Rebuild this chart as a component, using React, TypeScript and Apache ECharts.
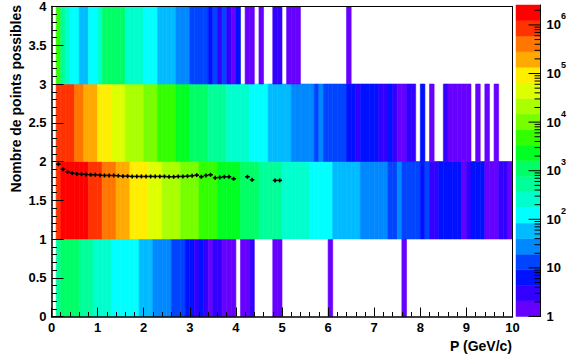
import React, { useEffect, useRef } from "react";
import * as echarts from "echarts";

// ---- data (counts per 0.1 GeV/c bin, one array per row of "Nombre de points possibles") ----
const BIN = 0.1;
const X_MIN = 0;
const X_MAX = 10;
const Y_MIN = 0;
const Y_MAX = 4;

// row y = 0..1
const row0 = [
  0, 530, 1100, 1100, 1100, 1100, 530, 530, 530, 250,
  250, 250, 250, 120, 120, 120, 120, 120, 120, 58,
  58, 58, 28, 28, 28, 28, 13, 13, 13, 6,
  6, 3, 6, 3, 1, 3, 3, 1, 1, 1,
  0, 1, 1, 3, 0, 0, 0, 0, 1, 1,
  0, 0, 0, 0, 0, 0, 0, 0, 0, 0,
  1, 0, 0, 0, 0, 0, 0, 0, 0, 0,
  0, 0, 0, 0, 0, 0, 1, 0, 0, 0,
  0, 0, 0, 0, 0, 0, 0, 0, 0, 0,
  0, 0, 0, 0, 0, 0, 0, 0, 0, 0,
];
// row y = 1..2
const row1 = [
  0, 860000, 1800000, 1800000, 1800000, 1800000, 1800000, 1800000, 860000, 860000,
  860000, 410000, 410000, 410000, 190000, 190000, 190000, 93000, 93000, 93000,
  93000, 45000, 45000, 45000, 21000, 21000, 21000, 21000, 10000, 10000,
  10000, 10000, 4900, 4900, 4900, 4900, 2300, 2300, 2300, 2300,
  2300, 1100, 1100, 1100, 1100, 530, 530, 530, 530, 530,
  250, 250, 250, 250, 250, 250, 120, 120, 120, 120,
  120, 58, 58, 58, 58, 58, 58, 28, 28, 28,
  28, 28, 28, 13, 13, 28, 13, 13, 13, 13,
  6, 13, 3, 3, 6, 6, 6, 6, 6, 1,
  3, 6, 6, 6, 1, 1, 1, 3, 3, 1,
];
// row y = 2..3
const row2 = [
  0, 860000, 860000, 860000, 860000, 410000, 410000, 190000, 190000, 190000,
  93000, 93000, 93000, 45000, 45000, 45000, 21000, 21000, 21000, 21000,
  10000, 10000, 10000, 4900, 4900, 4900, 4900, 2300, 2300, 2300,
  1100, 1100, 1100, 1100, 530, 530, 530, 530, 250, 250,
  250, 250, 250, 120, 120, 120, 120, 58, 58, 58,
  58, 58, 28, 28, 28, 28, 28, 13, 28, 13,
  13, 13, 13, 13, 6, 6, 3, 6, 6, 6,
  6, 3, 3, 6, 3, 1, 1, 3, 3, 0,
  6, 0, 1, 0, 0, 3, 1, 1, 1, 1,
  1, 0, 1, 0, 1, 0, 1, 0, 0, 0,
];
// row y = 3..4
const row3 = [
  0, 4900, 530, 250, 120, 120, 58, 58, 120, 120,
  250, 1100, 1100, 1100, 1100, 1100, 250, 250, 250, 250,
  120, 120, 120, 58, 58, 58, 58, 28, 28, 28,
  13, 13, 13, 13, 6, 13, 3, 13, 3, 1,
  6, 0, 1, 1, 0, 1, 0, 0, 3, 3,
  0, 1, 1, 1, 0, 0, 0, 0, 0, 0,
  0, 0, 0, 0, 1, 0, 0, 0, 0, 0,
  0, 0, 0, 0, 0, 0, 0, 0, 0, 0,
  0, 0, 0, 0, 0, 0, 0, 0, 0, 0,
  0, 0, 0, 0, 0, 0, 0, 0, 0, 0,
];

// profile (mean number of points per momentum bin)
const profX = [
  0.15, 0.25, 0.35, 0.45, 0.55, 0.65, 0.75, 0.85, 0.95, 1.05,
  1.15, 1.25, 1.35, 1.45, 1.55, 1.65, 1.75, 1.85, 1.95, 2.05,
  2.15, 2.25, 2.35, 2.45, 2.55, 2.65, 2.75, 2.85, 2.95, 3.05,
  3.15, 3.25, 3.35, 3.45, 3.55, 3.65, 3.75, 3.85, 3.95, 4.25,
  4.35, 4.85, 4.95,
];
const profY = [
  1.966, 1.9, 1.867, 1.85, 1.84, 1.837, 1.833, 1.829, 1.829, 1.824,
  1.82, 1.82, 1.82, 1.816, 1.811, 1.811, 1.807, 1.807, 1.807, 1.807,
  1.807, 1.807, 1.807, 1.807, 1.803, 1.803, 1.807, 1.807, 1.811, 1.816,
  1.824, 1.803, 1.82, 1.829, 1.79, 1.794, 1.803, 1.803, 1.777, 1.803,
  1.764, 1.756, 1.756,
];

// colour scale
const Z_MAX = 2.57e6;
const PALETTE = [
  "#6600ff", "#3300ff", "#0011ff", "#0044ff", "#0088ff",
  "#00bbff", "#00ffff", "#00ffcc", "#00ff99", "#00ff66",
  "#00ff22", "#33ff00", "#77ff00", "#aaff00", "#ddff00",
  "#ffee00", "#ffaa00", "#ff7700", "#ff3300", "#ff0000",
];

const FONT = '"Liberation Sans", Arial, Helvetica, sans-serif';

export default function App() {
  const ref = useRef<HTMLDivElement>(null);

  useEffect(() => {
    document.body.style.margin = "0";
    const chart = echarts.init(ref.current as HTMLDivElement, null, { renderer: "svg" });

    const logMax = Math.log10(Z_MAX);
    const step = logMax / PALETTE.length;
    const levelOf = (c: number) =>
      Math.min(PALETTE.length - 1, Math.max(0, Math.floor(Math.log10(c) / step)));

    const rows = [row0, row1, row2, row3];
    const cells: number[][] = [];
    rows.forEach((row, r) =>
      row.forEach((c, i) => {
        if (c > 0) cells.push([X_MIN + i * BIN, r, c]);
      })
    );

    const levels = PALETTE.map((_, k) => [k * step, (k + 1) * step, k]);

    const cbTicks: number[][] = [];
    for (let n = 0; n <= Math.floor(logMax); n++) {
      cbTicks.push([n, 12]);
      for (let m = 2; m <= 9; m++) {
        const v = n + Math.log10(m);
        if (v < logMax) cbTicks.push([v, 6]);
      }
    }

    const profData = profX.map((x, i) => [x, profY[i]]);

    const labelStyle = {
      color: "#000",
      fontFamily: FONT,
      fontWeight: "bold" as const,
      fontSize: 13,
    };

    const option: any = {
      animation: false,
      backgroundColor: "#ffffff",
      grid: [
        { left: 51.5, top: 5, width: 461, height: 311.5, show: false },
        { left: 516, top: 5, width: 25, height: 311.5, show: false },
      ],
      xAxis: [
        {
          gridIndex: 0,
          type: "value",
          min: X_MIN,
          max: X_MAX,
          interval: 1,
          z: 5,
          axisLine: { show: true, onZero: false, lineStyle: { color: "#000", width: 1.5 } },
          axisTick: { show: true, inside: true, length: 9, lineStyle: { color: "#000", width: 1 } },
          minorTick: { show: true, splitNumber: 5, length: 4.5, lineStyle: { color: "#000", width: 1 } },
          axisLabel: { ...labelStyle, margin: 4 },
          splitLine: { show: false },
        },
        {
          gridIndex: 0,
          type: "value",
          position: "top",
          min: X_MIN,
          max: X_MAX,
          z: 5,
          axisLine: { show: true, onZero: false, lineStyle: { color: "#000", width: 1 } },
          axisTick: { show: false },
          axisLabel: { show: false },
          splitLine: { show: false },
        },
        {
          gridIndex: 1,
          type: "value",
          min: 0,
          max: 1,
          show: false,
        },
      ],
      yAxis: [
        {
          gridIndex: 0,
          type: "value",
          min: Y_MIN,
          max: Y_MAX,
          interval: 0.5,
          z: 5,
          axisLine: { show: true, onZero: false, lineStyle: { color: "#000", width: 1.5 } },
          axisTick: { show: true, inside: true, length: 12, lineStyle: { color: "#000", width: 1 } },
          minorTick: { show: true, splitNumber: 5, length: 5.5, lineStyle: { color: "#000", width: 1 } },
          axisLabel: { ...labelStyle, margin: 5 },
          splitLine: { show: false },
        },
        {
          gridIndex: 0,
          type: "value",
          position: "right",
          min: Y_MIN,
          max: Y_MAX,
          z: 5,
          axisLine: { show: true, onZero: false, lineStyle: { color: "#000", width: 1 } },
          axisTick: { show: false },
          axisLabel: { show: false },
          splitLine: { show: false },
        },
        {
          gridIndex: 1,
          type: "value",
          position: "right",
          min: 0,
          max: logMax,
          interval: 1,
          z: 5,
          axisLine: { show: true, onZero: false, lineStyle: { color: "#000", width: 1 } },
          axisTick: { show: false },
          splitLine: { show: false },
          axisLabel: {
            margin: 6,
            formatter: (v: number) => {
              if (Math.abs(v - Math.round(v)) > 1e-6) return "";
              const n = Math.round(v);
              if (n === 0) return "{b|1}";
              if (n === 1) return "{b|10}";
              return "{b|10}{s|" + n + "}";
            },
            rich: {
              b: { ...labelStyle, lineHeight: 26 },
              s: {
                color: "#000",
                fontFamily: FONT,
                fontWeight: "bold",
                fontSize: 9,
                lineHeight: 12,
                verticalAlign: "top",
              },
            },
          },
        },
      ],
      series: [
        {
          type: "custom",
          name: "hist",
          xAxisIndex: 0,
          yAxisIndex: 0,
          z: 2,
          data: cells,
          encode: { x: 0, y: 1 },
          renderItem: (params: any, api: any) => {
            const x0 = api.value(0);
            const y0 = api.value(1);
            const c = api.value(2);
            const p0 = api.coord([x0, y0 + 1]);
            const p1 = api.coord([x0 + BIN, y0]);
            const col = PALETTE[levelOf(c)];
            return {
              type: "rect",
              shape: { x: p0[0], y: p0[1], width: p1[0] - p0[0], height: p1[1] - p0[1] },
              style: { fill: col, stroke: col, lineWidth: 0.6 },
            };
          },
        },
        {
          type: "custom",
          name: "profile",
          xAxisIndex: 0,
          yAxisIndex: 0,
          z: 6,
          data: profData,
          encode: { x: 0, y: 1 },
          renderItem: (params: any, api: any) => {
            const x = api.value(0);
            const y = api.value(1);
            const pL = api.coord([x - BIN / 2, y]);
            const pR = api.coord([x + BIN / 2, y]);
            const pc = api.coord([x, y]);
            const st = { stroke: "#000", lineWidth: 1.6 };
            return {
              type: "group",
              children: [
                { type: "line", shape: { x1: pL[0], y1: pL[1], x2: pR[0], y2: pR[1] }, style: st },
                { type: "line", shape: { x1: pc[0], y1: pc[1] - 2, x2: pc[0], y2: pc[1] + 2 }, style: st },
              ],
            };
          },
        },
        {
          type: "custom",
          name: "palette",
          xAxisIndex: 2,
          yAxisIndex: 2,
          z: 2,
          data: levels,
          renderItem: (params: any, api: any) => {
            const lo = api.value(0);
            const hi = api.value(1);
            const k = api.value(2);
            const p0 = api.coord([0, hi]);
            const p1 = api.coord([1, lo]);
            const col = PALETTE[k];
            return {
              type: "rect",
              shape: { x: p0[0], y: p0[1], width: p1[0] - p0[0], height: p1[1] - p0[1] },
              style: { fill: col, stroke: col, lineWidth: 0.5 },
            };
          },
        },
        {
          type: "custom",
          name: "paletteTicks",
          xAxisIndex: 2,
          yAxisIndex: 2,
          z: 6,
          data: cbTicks,
          renderItem: (params: any, api: any) => {
            const v = api.value(0);
            const len = api.value(1);
            const p = api.coord([1, v]);
            return {
              type: "line",
              shape: { x1: p[0] - len, y1: p[1], x2: p[0], y2: p[1] },
              style: { stroke: "#000", lineWidth: 1 },
            };
          },
        },
      ],
      graphic: [
        {
          type: "text",
          x: 512,
          y: 346,
          style: {
            text: "P (GeV/c)",
            font: "bold 14px " + FONT,
            fill: "#000",
            align: "right",
            verticalAlign: "middle",
          },
        },
        {
          type: "text",
          x: 16,
          y: 5,
          rotation: Math.PI / 2,
          style: {
            text: "Nombre de points possibles",
            font: "bold 14px " + FONT,
            fill: "#000",
            align: "right",
            verticalAlign: "middle",
          },
        },
      ],
    };

    chart.setOption(option);
    return () => chart.dispose();
  }, []);

  return (
    <div
      ref={ref}
      style={{ position: "absolute", left: 0, top: 0, width: 569, height: 358, background: "#fff" }}
    />
  );
}
